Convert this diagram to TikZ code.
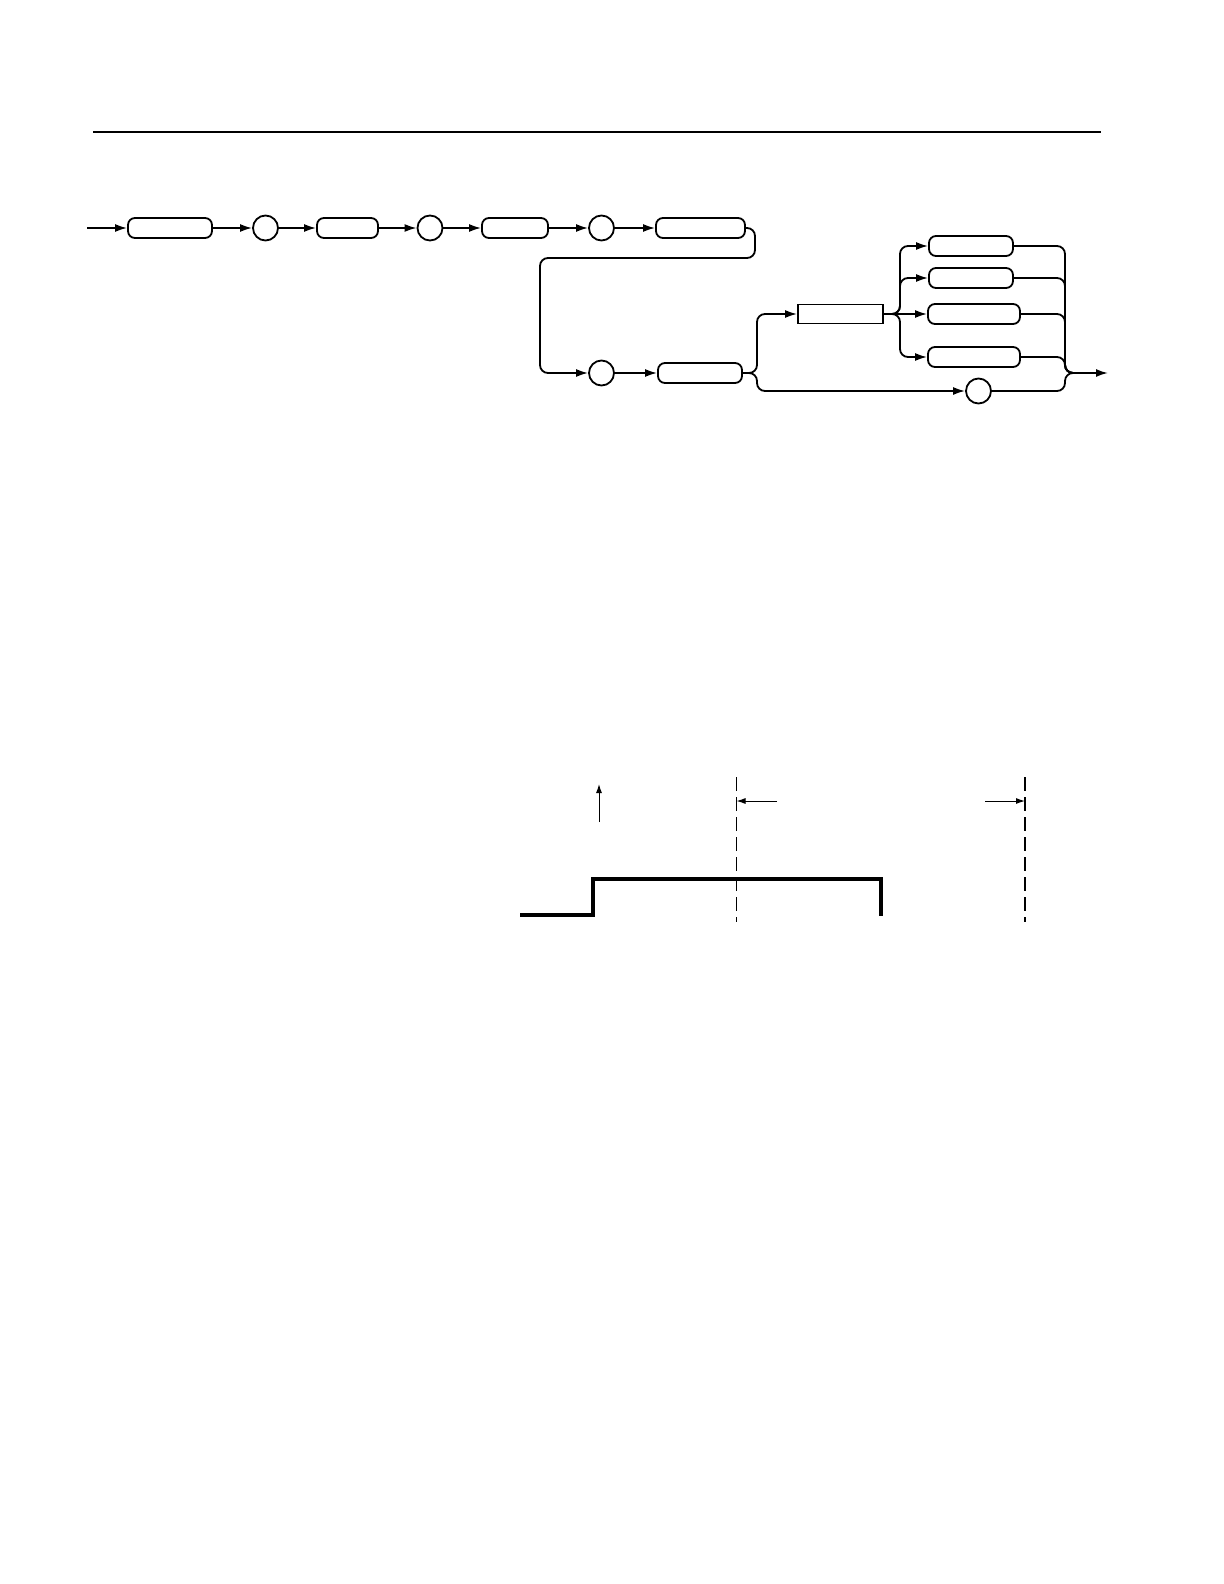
\documentclass[tikz,border=0pt]{standalone}
\usetikzlibrary{arrows.meta}
\tikzset{
  term/.style={draw, line width=0.9pt, rounded corners=3.5pt, minimum height=10pt, inner sep=0pt},
  nonterm/.style={draw, line width=0.9pt, minimum height=9.5pt, inner sep=0pt},
  lit/.style={draw, line width=0.9pt, circle, minimum size=12.5pt, inner sep=0pt},
  rail/.style={line width=0.9pt, rounded corners=4pt},
  dimline/.style={line width=0.5pt, >={Latex[length=4.5pt,width=3pt]}},
  >={Latex[length=6pt,width=4pt]}
}
\begin{document}
\begin{tikzpicture}[x=0.5pt, y=-0.5pt]
  \useasboundingbox (0,0) rectangle (1224,1584);
  % header rule
  \draw[line width=0.65pt] (93,132) -- (1101,132);

  % syntax diagram, first row
  \coordinate (start) at (87,228);
  \node[term, minimum width=42pt] (hdr) at (170,228) {};
  \node[lit] (sepA) at (265.5,228) {};
  \node[term, minimum width=30.5pt] (chan) at (347.5,228) {};
  \node[lit] (sepB) at (430,228) {};
  \node[term, minimum width=33pt] (trig) at (515,228) {};
  \node[lit] (sepC) at (601.5,228) {};
  \node[term, minimum width=44.5pt] (mode) at (700.5,228) {};
  \draw[rail,->] (start) -- (hdr);
  \draw[rail,->] (hdr) -- (sepA);
  \draw[rail,->] (sepA) -- (chan);
  \draw[rail,->] (chan) -- (sepB);
  \draw[rail,->] (sepB) -- (trig);
  \draw[rail,->] (trig) -- (sepC);
  \draw[rail,->] (sepC) -- (mode);

  % second row
  \node[lit] (sepD) at (601.5,373) {};
  \node[term, minimum width=42pt] (width) at (700,373) {};
  \coordinate (wrapR) at (755,258);
  \coordinate (wrapL) at (540,258);
  \draw[rail,->] (mode.east) -- (755,228) -- (wrapR) -- (wrapL) -- (540,373) -- (sepD);
  \draw[rail,->] (sepD) -- (width);

  % choices
  \node[nonterm, minimum width=42.5pt] (val) at (840.5,314) {};
  \node[term, minimum width=42pt] (unitA) at (971,246) {};
  \node[term, minimum width=42pt] (unitB) at (971,278) {};
  \node[term, minimum width=46pt] (unitC) at (974,314) {};
  \node[term, minimum width=46pt] (unitD) at (974,357) {};
  \node[lit] (query) at (978.5,391) {};
  \coordinate (merge) at (1073,373);
  \coordinate (finish) at (1108,373);

  \draw[rail,->] (width.east) -- (757,373) -- (757,314) -- (val);
  \draw[rail,->] (width.east) -- (757,373) -- (757,391) -- (query);
  \draw[rail,->] (val.east) -- (900,314) -- (900,246) -- (unitA);
  \draw[rail,->] (val.east) -- (900,314) -- (900,278) -- (unitB);
  \draw[rail,->] (val) -- (unitC);
  \draw[rail,->] (val.east) -- (900,314) -- (900,357) -- (unitD);
  \draw[rail] (unitA.east) -- (1065,246) -- (1065,373) -- (merge);
  \draw[rail] (unitB.east) -- (1065,278) -- (1065,373) -- (merge);
  \draw[rail] (unitC.east) -- (1065,314) -- (1065,373) -- (merge);
  \draw[rail] (unitD.east) -- (1065,357) -- (1065,373) -- (merge);
  \draw[rail] (query.east) -- (1065,391) -- (1065,373) -- (merge);
  \draw[rail,->] (merge) -- (finish);

  % timing sketch
  \draw[dimline,->] (599,822) -- (599,784);
  \draw[line width=0.6pt, dash pattern=on 7pt off 3pt] (736.5,777) -- (736.5,922);
  \draw[line width=0.6pt, dash pattern=on 7pt off 3pt] (1025,777) -- (1025,922);
  \draw[dimline,->] (777,801) -- (736.5,801);
  \draw[dimline,->] (985,801) -- (1025,801);
  \draw[line width=1.7pt] (520,915) -- (593,915) -- (593,879) -- (881,879) -- (881,916);
\end{tikzpicture}
\end{document}
